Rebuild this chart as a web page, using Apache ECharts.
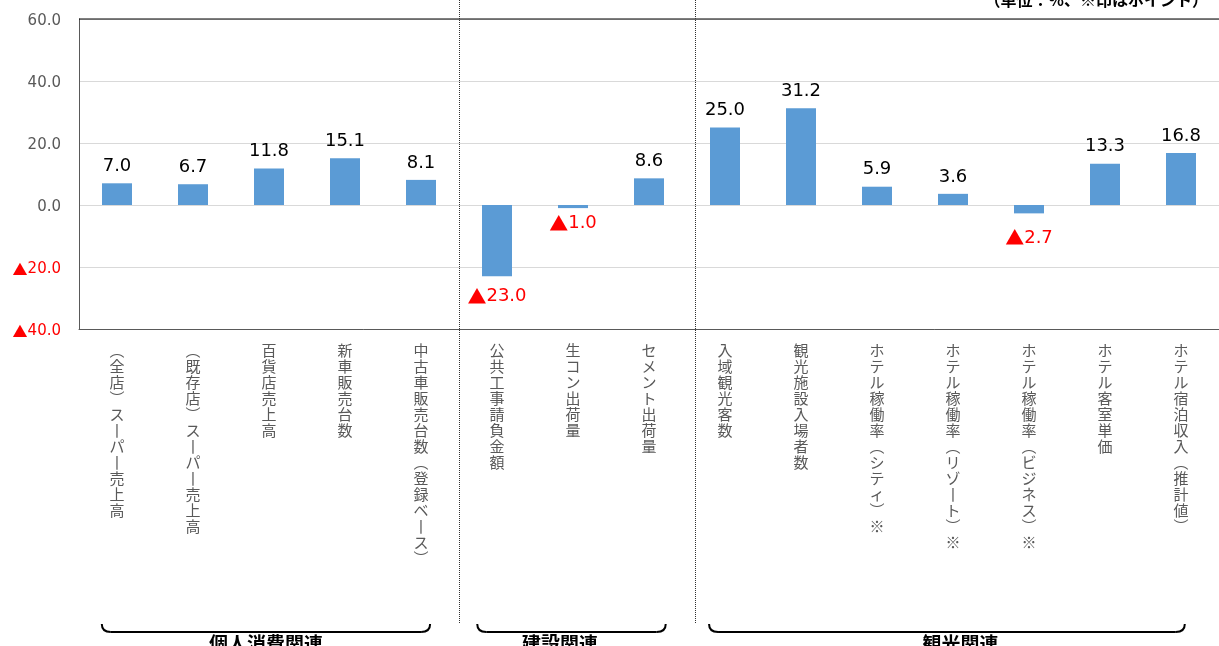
<!DOCTYPE html>
<html><head><meta charset="utf-8">
<script src="https://cdn.jsdelivr.net/npm/echarts@6/dist/echarts.min.js"></script>
<style>html,body{margin:0;padding:0;background:#fff}#c{width:1219px;height:646px}</style>
</head><body><div id="c"></div>
<script>
const categories = ['（全店）スーパー売上高','（既存店）スーパー売上高','百貨店売上高','新車販売台数','中古車販売台数（登録ベース）','公共工事請負金額','生コン出荷量','セメント出荷量','入域観光客数','観光施設入場者数','ホテル稼働率（シティ）※','ホテル稼働率（リゾート）※','ホテル稼働率（ビジネス）※','ホテル客室単価','ホテル宿泊収入（推計値）'];
const values = [7.0, 6.7, 11.8, 15.1, 8.1, -23.0, -1.0, 8.6, 25.0, 31.2, 5.9, 3.6, -2.7, 13.3, 16.8];
const groupNames = ['個人消費関連','建設関連','観光関連'];
const groupFirst = [0, 5, 8];
const groupLast = [4, 7, 14];
const unitText = '（単位：%、※印はポイント）';
const yTicks = {min: -40, max: 60, interval: 20};

// label gap (px) for negative-value labels, by category index (styling)
const negLabelGap = {5: 11, 6: 6, 12: 15};

const FONT = '"Noto Sans CJK JP", "Noto Sans", sans-serif';
const NUMFONT = '"DejaVu Sans", "Noto Sans", sans-serif';
const vmap = {'（':'︵','）':'︶','ー':'丨'};
function vert(s){ return Array.from(s).map(c => vmap[c] || c).join('\n'); }

const chart = echarts.init(document.getElementById('c'));
chart.setOption({
  animation: false,
  grid: {left: 79, right: 0, top: 19, bottom: 317, containLabel: false},
  xAxis: {
    type: 'category', data: categories,
    position: 'bottom',
    axisLine: {onZero: false, lineStyle: {color: '#595959', width: 1}},
    axisTick: {show: false},
    axisLabel: {interval: 0, margin: 13, fontSize: 15, lineHeight: 16, color: '#595959', fontFamily: FONT,
      formatter: v => vert(v)}
  },
  yAxis: {
    type: 'value', min: yTicks.min, max: yTicks.max, interval: yTicks.interval,
    axisLine: {show: true, lineStyle: {color: '#595959'}},
    axisTick: {show: false},
    splitLine: {lineStyle: {color: '#d9d9d9'}},
    axisLabel: {margin: 18, fontSize: 15, color: '#595959', fontFamily: NUMFONT, padding: [4, 0, 0, 0],
      formatter: v => v < 0 ? '{t|▲}{r|' + Math.abs(v).toFixed(1) + '}' : v.toFixed(1),
      rich: {
        r: {color: '#ff0000', fontSize: 15, fontFamily: NUMFONT},
        t: {color: '#ff0000', fontSize: 15, fontFamily: FONT}
      }}
  },
  series: [{
    type: 'bar', barWidth: 30,
    data: values.map((v, i) => ({
      value: v,
      label: {show: true, position: v < 0 ? 'bottom' : 'top', distance: v < 0 ? (negLabelGap[i] || 8) : 8,
        color: v < 0 ? '#ff0000' : '#000', fontSize: 18, fontFamily: NUMFONT,
        formatter: p => p.value < 0 ? '{t|▲}' + Math.abs(p.value).toFixed(1) : p.value.toFixed(1),
        rich: {t: {color: '#ff0000', fontSize: 19, fontFamily: FONT}}}
    })),
    itemStyle: {color: '#5b9bd5'}
  }]
});

function drawDecor(){
  const xOf = i => chart.convertToPixel({xAxisIndex: 0}, i);
  const band = xOf(1) - xOf(0);
  const yTop = chart.convertToPixel({yAxisIndex: 0}, yTicks.max);
  const els = [];
  els.push({type: 'line', shape: {x1: xOf(0) - band/2, y1: yTop, x2: 1219, y2: yTop}, style: {stroke: '#000', lineWidth: 1.2}, z: 10});
  const seps = [(xOf(4) + xOf(5)) / 2, (xOf(7) + xOf(8)) / 2 + 0.1 * band];
  seps.forEach(x => {
    const xx = Math.round(x) + 0.5;
    els.push({type: 'line', shape: {x1: xx, y1: 0, x2: xx, y2: 624}, style: {stroke: '#303030', lineWidth: 1, lineDash: [1, 1]}, z: 10});
  });
  const offs = [[-0.2, 0.12], [-0.26, 0.22], [-0.21, 0.05]];
  const labelX = [null, -0.17, 0.1];
  groupNames.forEach((name, g) => {
    const x1 = xOf(groupFirst[g]) + offs[g][0] * band;
    const x2 = xOf(groupLast[g]) + offs[g][1] * band;
    const yb = 632, yt = 624, r = 9;
    const st = {stroke: '#000', lineWidth: 2, fill: null};
    els.push({type: 'bezierCurve', shape: {x1: x1, y1: yt, cpx1: x1, cpy1: yb, x2: x1 + r, y2: yb}, style: st, z: 10});
    els.push({type: 'line', shape: {x1: x1 + r, y1: yb, x2: x2 - r, y2: yb}, style: st, z: 10});
    els.push({type: 'bezierCurve', shape: {x1: x2 - r, y1: yb, cpx1: x2, cpy1: yb, x2: x2, y2: yt}, style: st, z: 10});
    const cx = labelX[g] == null ? (x1 + x2) / 2 : (xOf(groupFirst[g]) + xOf(groupLast[g])) / 2 + labelX[g] * band;
    els.push({type: 'text', x: cx, y: 644, style: {text: name, font: 'bold 19px ' + FONT, fill: '#000', align: 'center', verticalAlign: 'middle'}, z: 11});
  });
  els.push({type: 'text', x: 1208, y: 0, style: {text: unitText, font: 'bold 16px ' + FONT, fill: '#000', align: 'right', verticalAlign: 'middle'}, z: 11});
  chart.setOption({graphic: els});
}
drawDecor();
</script>
</body></html>
